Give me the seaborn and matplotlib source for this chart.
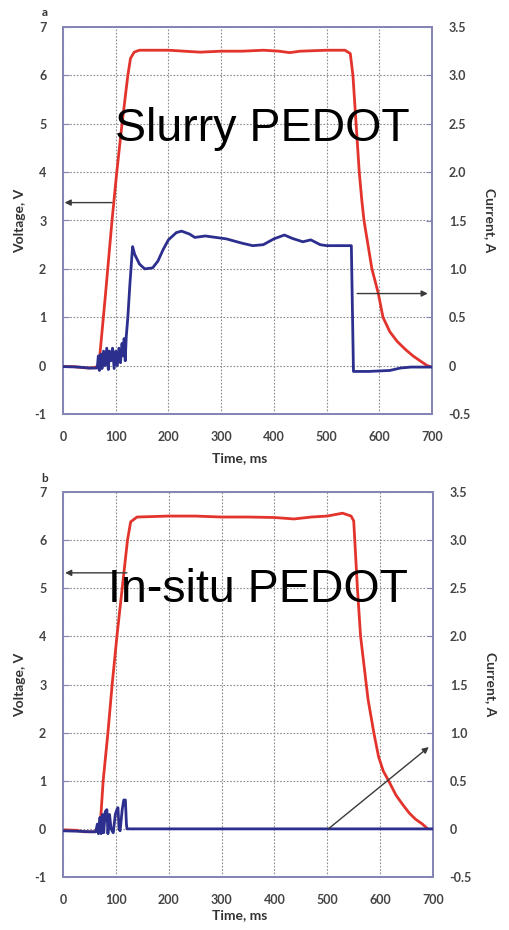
import numpy as np
import pandas as pd
import matplotlib
matplotlib.use("Agg")
import matplotlib.pyplot as plt
import seaborn as sns

# ---------------- data ----------------
# Panel a (Slurry PEDOT)
t_va = [0, 20, 35, 50, 60, 68, 80, 93, 102, 112, 123, 128, 135, 145, 200, 230, 260, 300, 340,
        380, 410, 430, 450, 500, 535, 545, 550, 556, 562, 567, 571, 586, 598, 607, 620, 634,
        650, 664, 680, 691, 697]
v_a = [-0.02, -0.02, -0.04, -0.05, -0.04, 0.0, 1.4, 3.0, 4.0, 5.0, 6.0, 6.35, 6.48, 6.52, 6.52,
       6.5, 6.48, 6.5, 6.5, 6.52, 6.5, 6.47, 6.5, 6.52, 6.52, 6.45, 6.0, 5.0, 4.0, 3.4, 3.0, 2.0,
       1.5, 1.0, 0.7, 0.5, 0.33, 0.2, 0.08, 0.0, -0.02]
t_ia = [0, 30, 50, 62, 65, 67, 69, 72, 74, 77, 80, 83, 86, 88, 91, 94, 97, 100, 103, 106, 109,
        112, 114, 116, 118, 120, 123, 127, 132, 136, 145, 155, 170, 180, 190, 200, 215, 225, 240,
        250, 270, 290, 310, 340, 360, 380, 400, 420, 435, 455, 470, 488, 500, 547, 551, 580, 620,
        640, 660, 700]
i_a = [-0.01, -0.015, -0.025, -0.025, -0.025, 0.1, -0.05, 0.12, -0.03, 0.15, 0.0, 0.18, -0.04,
       0.15, 0.05, 0.18, -0.03, 0.15, 0.0, 0.18, 0.03, 0.23, 0.1, 0.28, 0.05, 0.3, 0.5, 0.85,
       1.23, 1.15, 1.05, 1.0, 1.01, 1.08, 1.2, 1.3, 1.375, 1.39, 1.36, 1.325, 1.34, 1.325, 1.31,
       1.265, 1.24, 1.25, 1.31, 1.35, 1.315, 1.28, 1.3, 1.25, 1.24, 1.24, -0.06, -0.06, -0.05,
       -0.025, -0.015, -0.015]

# Panel b (In-situ PEDOT)
t_vb = [0, 25, 40, 60, 70, 76, 85, 93, 102, 112, 122, 128, 140, 200, 250, 300, 350, 400, 437,
        470, 500, 529, 545, 550, 552, 557, 563, 577, 588, 597, 606, 616, 630, 643, 655, 667,
        680, 690]
v_b = [-0.02, -0.03, -0.06, -0.06, 0.0, 1.0, 2.0, 3.0, 4.0, 5.0, 6.0, 6.38, 6.48, 6.5, 6.5,
       6.48, 6.48, 6.47, 6.44, 6.48, 6.5, 6.56, 6.5, 6.4, 6.0, 5.0, 4.0, 2.7, 2.0, 1.5, 1.2, 1.0,
       0.7, 0.5, 0.33, 0.2, 0.1, 0.0]
t_ib = [0, 30, 50, 62, 65, 67, 70, 72, 75, 77, 80, 83, 85, 88, 91, 95, 99, 102, 104, 106, 108,
        112, 115, 118, 120, 121, 700]
i_b = [-0.02, -0.025, -0.03, -0.03, 0.05, -0.05, 0.12, -0.05, 0.15, -0.04, 0.18, 0.2, -0.05,
       0.15, 0.0, -0.04, 0.15, 0.2, 0.22, 0.0, -0.02, 0.2, 0.3, 0.3, 0.05, 0.0, 0.0]

panel_letters = ["a", "b"]
panel_titles = ["Slurry PEDOT", "In-situ PEDOT"]
x_ticks = [0, 100, 200, 300, 400, 500, 600, 700]
v_ticks = [-1, 0, 1, 2, 3, 4, 5, 6, 7]
i_ticks = [-0.5, 0.0, 0.5, 1.0, 1.5, 2.0, 2.5, 3.0, 3.5]
i_tick_labels = ["-0.5", "0", "0.5", "1.0", "1.5", "2.0", "2.5", "3.0", "3.5"]

# ---------------- style ----------------
sns.set_style("white")
plt.rcParams["font.family"] = ["Lato", "DejaVu Sans"]
plt.rcParams["axes.unicode_minus"] = False

RED = "#e2342c"
BLUE = "#2c2f8e"
SPINE = "#8585b5"
TICKC = "#444444"

W, H = 510, 930
fig = plt.figure(figsize=(W / 100, H / 100), dpi=100)

panels = [
    dict(t_v=t_va, v=v_a, t_i=t_ia, i=i_a, box=(63, 27, 432, 414),
         larrow=((93, 1.685), (3, 1.685)), rarrow=((558, 0.745), (692, 0.745)),
         text=(378, 2.32), letter=(45, 12), xlabel_y=458),
    dict(t_v=t_vb, v=v_b, t_i=t_ib, i=i_b, box=(63, 492, 433, 877),
         larrow=((121, 2.66), (4, 2.66)), rarrow=((502, 0.0), (692, 0.85)),
         text=(369, 2.36), letter=(45, 478), xlabel_y=915),
]

for k, p in enumerate(panels):
    x0, y0, x1, y1 = p["box"]
    ax = fig.add_axes([x0 / W, 1 - y1 / H, (x1 - x0) / W, (y1 - y0) / H])
    ax2 = ax.twinx()

    dv = pd.DataFrame({"t": p["t_v"], "v": p["v"]})
    di = pd.DataFrame({"t": p["t_i"], "i": p["i"]})
    sns.lineplot(data=dv, x="t", y="v", ax=ax, color=RED, lw=2.0, sort=False, zorder=3)
    sns.lineplot(data=di, x="t", y="i", ax=ax2, color=BLUE, lw=2.0, sort=False, zorder=3)

    ax.set_xlim(0, 700)
    ax.set_ylim(-1, 7)
    ax2.set_ylim(-0.5, 3.5)
    ax.set_xticks(x_ticks)
    ax.set_yticks(v_ticks)
    ax2.set_yticks(i_ticks)
    ax2.set_yticklabels(i_tick_labels)

    ax.grid(True, color="#8c8c8c", linestyle=(0, (1.5, 1.5)), linewidth=0.8)
    ax2.grid(False)
    ax.set_axisbelow(True)

    for a in (ax, ax2):
        for s in a.spines.values():
            s.set_color(SPINE)
            s.set_linewidth(1.3)
            s.set_visible(True)
    ax.tick_params(axis="both", direction="in", length=4, color=SPINE, labelsize=9,
                   labelcolor=TICKC, pad=12)
    ax2.tick_params(axis="y", direction="in", length=4, color=SPINE, labelsize=9,
                    labelcolor=TICKC, pad=12)
    for lab in ax.get_xticklabels() + ax.get_yticklabels() + ax2.get_yticklabels():
        lab.set_fontweight("bold")

    ax.set_xlabel("")
    ax.set_ylabel("Voltage, V", fontsize=10, fontweight="bold", color="#333333", labelpad=6)
    ax2.set_ylabel("Current, A", fontsize=10, fontweight="bold", color="#333333",
                   rotation=270, labelpad=18)
    fig.text(((x0 + x1) / 2 - 8) / W, 1 - p["xlabel_y"] / H, "Time, ms", ha="center",
             va="center", fontsize=10, fontweight="bold", color="#333333")
    fig.text(p["letter"][0] / W, 1 - p["letter"][1] / H, panel_letters[k], ha="center",
             va="center", fontsize=8.5, fontweight="bold", color="#333333")

    arrow_kw = dict(arrowstyle="-|>", color="#3a3a3a", lw=1.0, mutation_scale=9,
                    shrinkA=0, shrinkB=0)
    ax2.annotate("", xy=p["larrow"][1], xytext=p["larrow"][0], arrowprops=arrow_kw, zorder=5)
    ax2.annotate("", xy=p["rarrow"][1], xytext=p["rarrow"][0], arrowprops=arrow_kw, zorder=5)

    ax2.text(p["text"][0], p["text"][1], panel_titles[k], ha="center", va="baseline",
             fontsize=33.5, family="Liberation Sans", color="black", zorder=6)

fig.savefig("out.png", dpi=100)
